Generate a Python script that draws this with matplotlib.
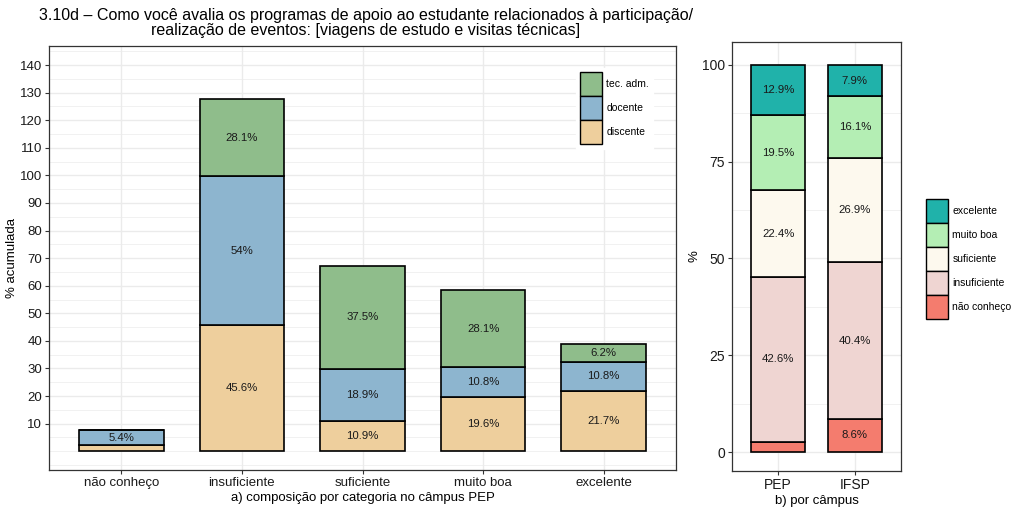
import matplotlib
matplotlib.use("Agg")
import matplotlib.pyplot as plt
import numpy as np
from matplotlib.patches import Patch
from matplotlib.ticker import MultipleLocator

plt.rcParams['font.family'] = ['Liberation Sans', 'DejaVu Sans']

# ---- data ----
categories = ["não conheço", "insuficiente", "suficiente", "muito boa", "excelente"]
discente = [2.2, 45.6, 10.9, 19.6, 21.7]
docente = [5.4, 54.0, 18.9, 10.8, 10.8]
tec_adm = [0.0, 28.1, 37.5, 28.1, 6.2]
groups = ["discente", "docente", "tec. adm."]

campus = ["PEP", "IFSP"]
nao_conheco = [2.6, 8.6]
insuficiente = [42.6, 40.4]
suficiente = [22.4, 26.9]
muito_boa = [19.5, 16.1]
excelente = [12.9, 7.9]
levels = ["não conheço", "insuficiente", "suficiente", "muito boa", "excelente"]

left_colors = {"discente": "#EECF9D", "docente": "#8DB5CF", "tec. adm.": "#8FBD8B"}
right_colors = {"não conheço": "#F47C6E", "insuficiente": "#EFD5D2",
                "suficiente": "#FDF9EE", "muito boa": "#B4EEB4", "excelente": "#20B2AA"}

fig = plt.figure(figsize=(10.24, 5.12), dpi=100)
axL = fig.add_axes([49/1024, 1-470/512, (676-49)/1024, (470-46)/512])
axR = fig.add_axes([732/1024, 1-471/512, (901-732)/1024, (471-42)/512])

def style(ax):
    for s in ax.spines.values():
        s.set_color("#333333")
        s.set_linewidth(0.9)
    ax.grid(which="major", color="#EBEBEB", linewidth=1.0)
    ax.grid(which="minor", axis="y", color="#EBEBEB", linewidth=0.5)
    ax.set_axisbelow(True)
    ax.tick_params(axis="both", which="major", length=3, color="#333333",
                   labelsize=9.5, labelcolor="#1A1A1A", pad=2)
    ax.tick_params(axis="both", which="minor", length=0)

# ---- left panel ----
x = np.arange(1, len(categories) + 1)
bottom = np.zeros(len(categories))
for g, vals in zip(groups, [discente, docente, tec_adm]):
    vals = np.array(vals)
    axL.bar(x, vals, bottom=bottom, width=0.7, color=left_colors[g],
            edgecolor="black", linewidth=1.2, zorder=2)
    for xi, b, v in zip(x, bottom, vals):
        if v >= 5:
            axL.text(xi, b + v/2, f"{v:g}%", ha="center", va="center",
                     fontsize=8.2, color="#1A1A1A", zorder=3)
    bottom = bottom + vals

axL.set_xlim(0.4, 5.6)
axL.set_ylim(-6.8, 146.9)
axL.set_xticks(x)
axL.set_xticklabels(categories)
axL.set_yticks(np.arange(10, 141, 10))
axL.yaxis.set_minor_locator(MultipleLocator(5))
style(axL)
axL.set_ylabel("% acumulada", fontsize=9.5, labelpad=1)
axL.set_xlabel("a) composição por categoria no câmpus PEP", fontsize=9.5, labelpad=2)

leg_kw = dict(fontsize=7.5, handlelength=2.1, handleheight=3.17,
              labelspacing=0.0, borderpad=0.4, handletextpad=0.4)

handlesL = [Patch(facecolor=left_colors[g], edgecolor="black", linewidth=1.0, label=g)
            for g in ["tec. adm.", "docente", "discente"]]
legL = axL.legend(handles=handlesL, loc="upper left",
                  bbox_to_anchor=((571-49)/627, (470-63)/424), frameon=True, **leg_kw)
legL.get_frame().set_edgecolor("white")
legL.get_frame().set_facecolor("white")
legL.get_frame().set_alpha(1)
legL.get_frame().set_boxstyle("square", pad=0)

# ---- right panel ----
xr = np.arange(1, len(campus) + 1)
bottom = np.zeros(len(campus))
for lv, vals in zip(levels, [nao_conheco, insuficiente, suficiente, muito_boa, excelente]):
    vals = np.array(vals)
    axR.bar(xr, vals, bottom=bottom, width=0.7, color=right_colors[lv],
            edgecolor="black", linewidth=1.2, zorder=2)
    for xi, b, v in zip(xr, bottom, vals):
        if v >= 5:
            axR.text(xi, b + v/2, f"{v:g}%", ha="center", va="center",
                     fontsize=8.2, color="#1A1A1A", zorder=3)
    bottom = bottom + vals

axR.set_xlim(0.4, 2.6)
axR.set_ylim(-4.9, 105.9)
axR.set_xticks(xr)
axR.set_xticklabels(campus)
axR.set_yticks([0, 25, 50, 75, 100])
axR.yaxis.set_minor_locator(MultipleLocator(12.5))
style(axR)
axR.tick_params(axis="both", labelsize=10)
axR.set_ylabel("%", fontsize=9.5, labelpad=1)
axR.set_xlabel("b) por câmpus", fontsize=9.5, labelpad=2)

handlesR = [Patch(facecolor=right_colors[l], edgecolor="black", linewidth=1.0, label=l)
            for l in ["excelente", "muito boa", "suficiente", "insuficiente", "não conheço"]]
fig.legend(handles=handlesR, loc="upper left",
           bbox_to_anchor=(917/1024, 1-190/512), frameon=False, **leg_kw)

# ---- title ----
fig.text(366/1024, 1-23/512,
         "3.10d – Como você avalia os programas de apoio ao estudante relacionados à participação/\n"
         "realização de eventos: [viagens de estudo e visitas técnicas]",
         ha="center", va="center", fontsize=11.5, color="black", linespacing=1.05)

fig.savefig("out.png", dpi=100)
